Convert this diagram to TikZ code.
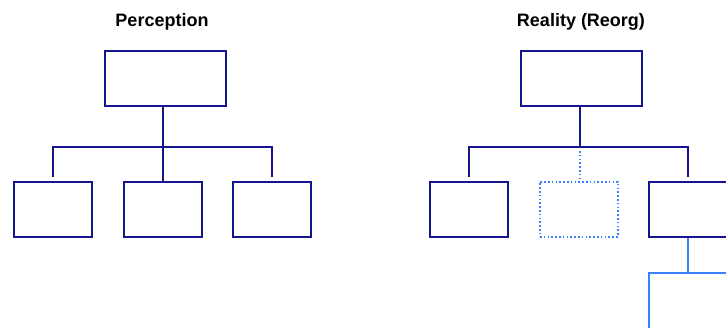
\documentclass[tikz,border=0pt]{standalone}
\usepackage{fontspec}
\setmainfont{Liberation Sans}
\definecolor{navyline}{RGB}{20,20,140}
\definecolor{lightline}{RGB}{55,130,250}
\begin{document}
\begin{tikzpicture}[x=1pt,y=-1pt,
  title/.style={font=\bfseries\fontsize{18}{20}\selectfont, anchor=base, inner sep=0pt},
  box/.style={draw=navyline, line width=2pt, minimum width=78pt, minimum height=55pt, inner sep=0pt},
  topbox/.style={box, minimum width=121pt},
  ghost/.style={draw=lightline, line width=2pt, dash pattern=on 1.6pt off 2.2pt, minimum width=78pt, minimum height=55pt, inner sep=0pt},
  conn/.style={draw=navyline, line width=2pt},
  ghostconn/.style={draw=lightline, line width=2pt, dash pattern=on 1.6pt off 2.2pt},
  newconn/.style={draw=lightline, line width=2pt}]
\useasboundingbox (0,0) rectangle (726,327);
\clip (0,0) rectangle (726,327);
% Left: Perception
\node[title] (t1) at (162,26) {Perception};
\node[topbox] (top1) at (165,78) {};
\node[box] (c1) at (52.5,209) {};
\node[box] (c2) at (162.5,209) {};
\node[box] (c3) at (271.5,209) {};
\coordinate (j1) at (163,147);
\draw[conn] (j1 |- top1.south) -- (j1);
\draw[conn] ([yshift=4pt]c1.north) |- (j1) -| ([yshift=4pt]c3.north);
\draw[conn] (j1) -- (j1 |- c2.north);
% Right: Reality (Reorg)
\node[title] (t2) at (581,26) {Reality (Reorg)};
\node[topbox] (top2) at (581,78) {};
\node[box] (c4) at (469,209) {};
\node[ghost] (c5) at (579,209) {};
\node[box] (c6) at (688,209) {};
\coordinate (j2) at (580,147);
\draw[conn] (j2 |- top2.south) -- (j2);
\draw[conn] ([yshift=4pt]c4.north) |- (j2) -| ([yshift=4pt]c6.north);
\draw[ghostconn] ([yshift=-4pt]j2) -- (j2 |- c5.north);
% New branch below c6 (continues off the picture)
\path (c6.south) ++(0,35) coordinate (j3);
\coordinate (g1) at (649,360);
\coordinate (g2) at (770,360);
\draw[newconn] (c6.south) -- (j3);
\draw[newconn] (g1) |- (j3) -| (g2);
\end{tikzpicture}
\end{document}
